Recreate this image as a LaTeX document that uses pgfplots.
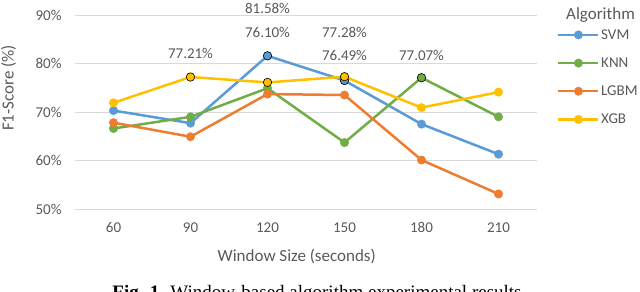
\documentclass[border=0pt]{standalone}
\usepackage{pgfplots}
\pgfplotsset{compat=1.18}
\usepackage{fontspec}
\setmainfont{Carlito}
\newfontfamily\timesfont{Liberation Serif}
\definecolor{svm}{HTML}{5B9BD5}
\definecolor{knn}{HTML}{70AD47}
\definecolor{lgbm}{HTML}{ED7D31}
\definecolor{xgb}{HTML}{FFC000}
\definecolor{txt}{HTML}{595959}
\definecolor{grd}{HTML}{D9D9D9}
\begin{document}
\begin{tikzpicture}
\path[use as bounding box] (0,0) rectangle (640bp,292bp);
\clip (0,0) rectangle (640bp,292bp);
\begin{axis}[
  at={(75bp,83bp)}, anchor=south west, scale only axis,
  width=462bp, height=194bp,
  xmin=45, xmax=225, ymin=50, ymax=90,
  xtick={60,90,120,150,180,210}, ytick={50,60,70,80,90},
  yticklabel={\pgfmathprintnumber{\tick}\%},
  /pgf/number format/assume math mode=true,
  ymajorgrids, grid style={grd, line width=0.8bp},
  axis line style={draw=none},
  major tick length=0pt,
  tick label style={font=\fontsize{15bp}{17bp}\selectfont, text=txt},
  yticklabel style={xshift=-10bp},
  xticklabel style={yshift=-10bp},
  xlabel={Window Size (seconds)},
  ylabel={F1-Score (\%)},
  label style={font=\fontsize{17bp}{19bp}\selectfont, text=txt},
  xlabel style={at={(axis description cs:0.480,-0.245)}, anchor=center},
  ylabel style={at={(axis description cs:-0.144,0.624)}, anchor=center},
  clip=false,
  legend style={at={(axis description cs:1.0433,0.935)}, anchor=north west,
    draw=none, fill=none, inner sep=0pt, row sep=14bp,
    font=\fontsize{15bp}{17bp}\selectfont, text=txt,
    nodes={inner sep=1.5pt, anchor=west}},
  legend cell align=left,
  legend image code/.code={\draw[mark repeat=2, mark phase=2] plot coordinates {(0bp,0bp) (20bp,0bp) (40bp,0bp)};},
  every axis plot/.append style={line width=2.5bp, mark=*, mark size=4.2bp},
]
\addplot[svm, mark options={fill=svm, draw=svm, line width=0.5bp}] coordinates {(60,70.3) (90,67.7) (120,81.58) (150,76.49) (180,67.5) (210,61.3)};
\addlegendentry{SVM}
\addplot[only marks, forget plot, mark options={fill=svm, draw=black, line width=0.6bp}] coordinates {(120,81.58) (150,76.49)};
\addplot[knn, mark options={fill=knn, draw=knn, line width=0.5bp}] coordinates {(60,66.6) (90,69.0) (120,74.9) (150,63.7) (180,77.07) (210,69.0)};
\addlegendentry{KNN}
\addplot[only marks, forget plot, mark options={fill=knn, draw=black, line width=0.6bp}] coordinates {(180,77.07)};
\addplot[lgbm, mark options={fill=lgbm, draw=lgbm, line width=0.5bp}] coordinates {(60,67.8) (90,64.9) (120,73.7) (150,73.5) (180,60.1) (210,53.1)};
\addlegendentry{LGBM}
\addplot[xgb, mark options={fill=xgb, draw=xgb, line width=0.5bp}] coordinates {(60,71.9) (90,77.21) (120,76.10) (150,77.28) (180,70.9) (210,74.1)};
\addlegendentry{XGB}
\addplot[only marks, forget plot, mark options={fill=xgb, draw=black, line width=0.6bp}] coordinates {(90,77.21) (120,76.10) (150,77.28)};
\begin{scope}[every node/.style={font=\fontsize{15bp}{17bp}\selectfont, text=txt, anchor=center, inner sep=0pt}]
\node at (axis cs:90,82.0) {77.21\%};
\node at (axis cs:120,91.4) {81.58\%};
\node at (axis cs:120,86.3) {76.10\%};
\node at (axis cs:150,86.5) {77.28\%};
\node at (axis cs:150,81.75) {76.49\%};
\node at (axis cs:180,81.75) {77.07\%};
\end{scope}
\end{axis}
\node[anchor=west, inner sep=0pt, text=txt, font=\fontsize{17bp}{19bp}\selectfont] at (566bp,277bp) {Algorithm};
\node[anchor=base, inner sep=0pt, font=\fontsize{19bp}{21bp}\selectfont\timesfont] at (317bp,-6.5bp) {\textbf{Fig. 1.} Window-based algorithm experimental results};
\end{tikzpicture}
\end{document}
